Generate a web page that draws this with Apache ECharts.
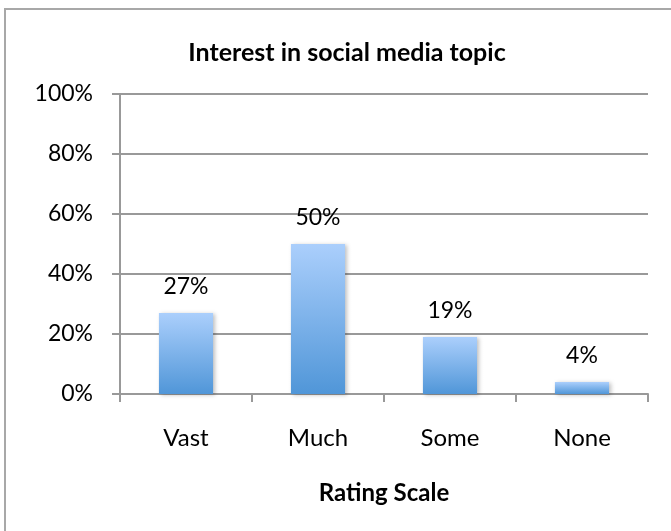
<!DOCTYPE html>
<html>
<head>
<meta charset="utf-8">
<script src="https://cdn.jsdelivr.net/npm/echarts@6/dist/echarts.min.js"></script>
<style>html,body{margin:0;padding:0;background:#fff}#c{width:671px;height:531px}</style>
</head>
<body>
<div id="c"></div>
<script>
const categories = ['Vast', 'Much', 'Some', 'None'];
const values = [27, 50, 19, 4];
const yTicks = [0, 20, 40, 60, 80, 100];
const titleText = 'Interest in social media topic';
const xName = 'Rating Scale';

const FONT = 'Lato';
const chart = echarts.init(document.getElementById('c'), null, {renderer: 'canvas'});
chart.setOption({
  animation: false,
  backgroundColor: '#fff',
  graphic: [{
    type: 'rect', shape: {x: 5, y: 9, width: 700, height: 600},
    style: {fill: 'none', stroke: '#a8a8a8', lineWidth: 2}, z: -1
  }],
  title: {
    text: titleText, left: 342, top: 35, textAlign: 'center',
    textStyle: {fontFamily: FONT, fontWeight: 'bold', fontSize: 25, color: '#000'}
  },
  grid: {left: 120, right: 23, top: 94, bottom: 137, containLabel: false},
  xAxis: {
    type: 'category', data: categories,
    name: xName, nameLocation: 'middle', nameGap: 87,
    nameTextStyle: {fontFamily: FONT, fontWeight: 'bold', fontSize: 24, color: '#000'},
    axisLine: {lineStyle: {color: '#999', width: 2}},
    axisTick: {show: true, length: 8, alignWithLabel: false, lineStyle: {color: '#999', width: 2}},
    axisLabel: {fontFamily: FONT, fontSize: 24, color: '#000', margin: 32}
  },
  yAxis: {
    type: 'value', min: 0, max: 100, interval: 20,
    axisLine: {show: true, lineStyle: {color: '#999', width: 2}},
    axisTick: {show: true, length: 8, lineStyle: {color: '#999', width: 2}},
    splitLine: {show: true, lineStyle: {color: '#999', width: 2}},
    axisLabel: {fontFamily: FONT, fontSize: 23, color: '#000', margin: 27,
      formatter: v => yTicks.includes(v) ? v + '%' : ''}
  },
  series: [{
    type: 'bar', data: values, barWidth: '41%',
    itemStyle: {
      color: new echarts.graphic.LinearGradient(0, 0, 0, 1, [
        {offset: 0, color: '#abcffc'},
        {offset: 1, color: '#5096d8'}
      ]),
      shadowBlur: 4, shadowColor: 'rgba(0,0,0,0.25)', shadowOffsetX: 2, shadowOffsetY: 1
    },
    label: {show: true, position: 'top', distance: 15, formatter: p => p.value + '%',
      fontFamily: FONT, fontSize: 23, color: '#000'}
  }]
});
</script>
</body>
</html>
